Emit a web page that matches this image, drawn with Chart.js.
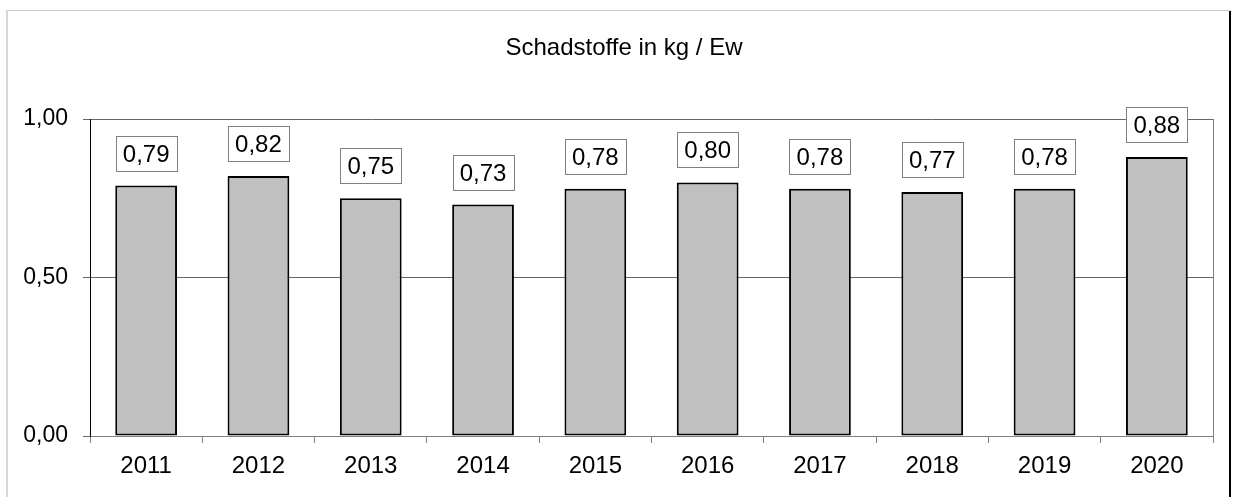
<!DOCTYPE html>
<html>
<head>
<meta charset="utf-8">
<script src="https://cdn.jsdelivr.net/npm/chart.js@4/dist/chart.umd.min.js"></script>
<style>
  html, body { margin: 0; padding: 0; background: #fff; }
  #wrap { width: 1236px; height: 497px; }
</style>
</head>
<body>
<div id="wrap"><canvas id="schadChart" width="1236" height="497"></canvas></div>
<script>
var years = ['2011', '2012', '2013', '2014', '2015', '2016', '2017', '2018', '2019', '2020'];
var values = [0.79, 0.82, 0.75, 0.73, 0.78, 0.80, 0.78, 0.77, 0.78, 0.88];
var yTicks = [0, 0.5, 1.0];
var chartTitle = 'Schadstoffe in kg / Ew';

var FONT = 'Liberation Sans, Arial, sans-serif';

function fmt(v) {
    return v.toFixed(2).replace('.', ',');
}

// frame, title, plot border
var framePlugin = {
    id: 'frame',
    beforeDraw: function(chart) {
        var ctx = chart.ctx;
        ctx.save();
        ctx.fillStyle = '#fff';
        ctx.fillRect(0, 0, chart.width, chart.height);
        ctx.strokeStyle = '#c8c8c8';
        ctx.lineWidth = 1;
        ctx.beginPath();
        ctx.moveTo(6, 10.5);
        ctx.lineTo(1230, 10.5);
        ctx.stroke();
        ctx.strokeStyle = '#d8d8d8';
        ctx.lineWidth = 2;
        ctx.beginPath();
        ctx.moveTo(7, 10);
        ctx.lineTo(7, chart.height);
        ctx.stroke();
        ctx.strokeStyle = '#000';
        ctx.beginPath();
        ctx.moveTo(1230, 11);
        ctx.lineTo(1230, chart.height);
        ctx.stroke();

        ctx.fillStyle = '#000';
        ctx.font = '24px ' + FONT;
        ctx.textAlign = 'center';
        ctx.textBaseline = 'middle';
        ctx.fillText(chartTitle, 624, 48);
        ctx.restore();
    },
    afterDraw: function(chart) {
        var a = chart.chartArea;
        var ctx = chart.ctx;
        ctx.save();
        ctx.strokeStyle = '#808080';
        ctx.lineWidth = 1;
        ctx.beginPath();
        ctx.moveTo(Math.round(a.right) + 0.5, a.top);
        ctx.lineTo(Math.round(a.right) + 0.5, a.bottom);
        ctx.stroke();
        ctx.restore();
    }
};

// boxed value labels above bars
var boxLabels = {
    id: 'boxLabels',
    afterDatasetsDraw: function(chart) {
        var ctx = chart.ctx;
        var meta = chart.getDatasetMeta(0);
        ctx.save();
        ctx.font = '24px ' + FONT;
        ctx.textAlign = 'center';
        ctx.textBaseline = 'middle';
        meta.data.forEach(function(bar, i) {
            var txt = fmt(values[i]);
            var w = Math.round(ctx.measureText(txt).width) + 14;
            var h = 35;
            var bottom = bar.y - 15;
            var left = Math.round(bar.x - w / 2) + 0.5;
            var top = Math.round(bottom - h) + 0.5;
            ctx.fillStyle = '#fff';
            ctx.fillRect(left, top, w, h);
            ctx.strokeStyle = '#808080';
            ctx.lineWidth = 1;
            ctx.strokeRect(left, top, w, h);
            ctx.fillStyle = '#000';
            ctx.fillText(txt, bar.x, top + h / 2 + 1);
        });
        ctx.restore();
    }
};

var ctx = document.getElementById('schadChart').getContext('2d');
new Chart(ctx, {
    type: 'bar',
    data: {
        labels: years,
        datasets: [{
            data: values,
            backgroundColor: '#c0c0c0',
            borderColor: '#000',
            borderWidth: 2,
            borderSkipped: false,
            categoryPercentage: 1.0,
            barPercentage: 0.55
        }]
    },
    options: {
        responsive: false,
        animation: false,
        layout: {
            padding: { top: 119, right: 23, left: 0, bottom: 0 }
        },
        plugins: {
            legend: { display: false },
            title: { display: false },
            tooltip: { enabled: false }
        },
        scales: {
            x: {
                afterFit: function(scale) { scale.height = 61; },
                grid: {
                    offset: true,
                    drawOnChartArea: false,
                    drawTicks: true,
                    tickLength: 7,
                    color: '#808080'
                },
                border: { color: '#808080', width: 1 },
                ticks: {
                    color: '#000',
                    padding: 9,
                    font: { family: FONT, size: 24 }
                }
            },
            y: {
                min: 0,
                max: 1,
                afterFit: function(scale) { scale.width = 90; },
                afterBuildTicks: function(scale) {
                    scale.ticks = yTicks.map(function(v) { return { value: v }; });
                },
                grid: {
                    color: '#666',
                    tickLength: 7,
                    drawTicks: true
                },
                border: { color: '#000', width: 1 },
                ticks: {
                    color: '#000',
                    padding: 15,
                    font: { family: FONT, size: 23 },
                    callback: function(v) { return fmt(v); }
                }
            }
        }
    },
    plugins: [framePlugin, boxLabels]
});
</script>
</body>
</html>
